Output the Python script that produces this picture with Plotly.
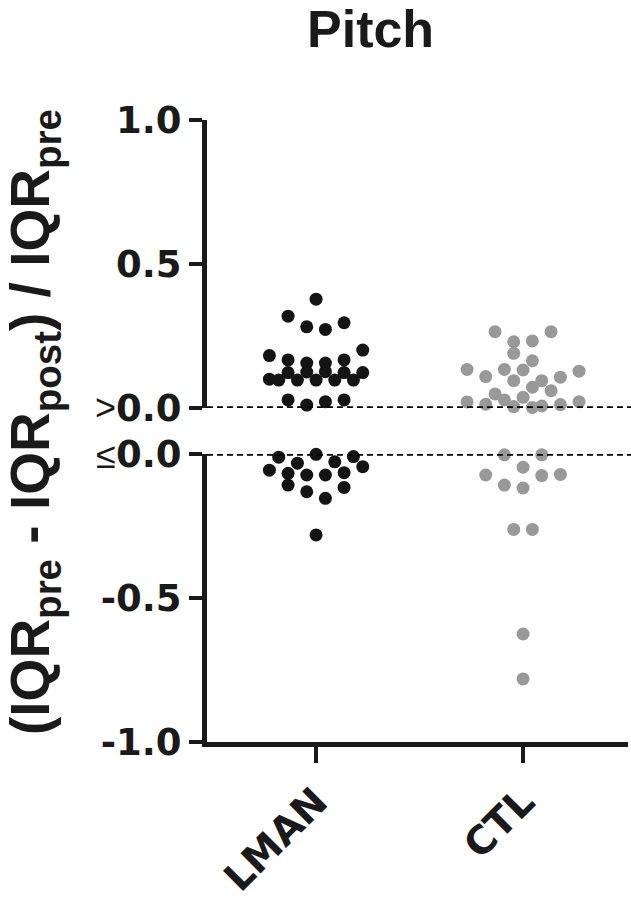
import numpy as np
import plotly.graph_objects as go

# ---------------- data ----------------
categories = ["LMAN", "CTL"]
# values in data-entry order (values > 0 on the upper segment, <= 0 on the lower one)
lman = [0.378,
        0.319, 0.296, 0.282, 0.273,
        0.182, 0.201, 0.167, 0.167, 0.156, 0.156,
        0.100, 0.123, 0.123, 0.123, 0.125, 0.126,
        0.097, 0.097, 0.097, 0.097, 0.097,
        0.028, 0.028, 0.010, 0.022,
        -0.281,
        -0.108, -0.116, -0.131, -0.154,
        -0.056, -0.044, -0.067, -0.065, -0.073, -0.073,
        -0.011, -0.009, -0.032, -0.027, -0.001]
ctl = [0.265, 0.265, 0.230, 0.233,
       0.190, 0.164,
       0.134, 0.128, 0.109, 0.107, 0.134, 0.095, 0.132,
       0.049, 0.060, 0.095, 0.072,
       0.021, 0.022, 0.013, 0.012, 0.028, 0.007, 0.037,
       0.005, 0.002,
       -0.781, -0.625, -0.262, -0.262,
       -0.073, -0.071, -0.108, -0.075, -0.118,
       -0.003, -0.003, -0.046]
y_up_ticks = [0.0, 0.5, 1.0]
y_up_text = ["0.0", "0.5", "1.0"]
y_lo_ticks = [-1.0, -0.5, 0.0]
y_lo_text = ["-1.0", "-0.5", "0.0"]

# ---------------- style / layout ----------------
W, H = 631, 900
L, R, T, B = 207, 3, 120, 158
PW, PH = W - L - R, H - T - B
XR = [0.473, 2.507]
PX_PER_X = PW / (XR[1] - XR[0])
SPACING = 18.67 / PX_PER_X          # horizontal distance between swarm columns
ROW_H = 0.0485                      # row height of the swarm (data units)
colors = {"LMAN": "#141414", "CTL": "#999999"}
max_per_row = {"LMAN": 6, "CTL": 7}
INK = "#1a1a1a"
TICKFONT = dict(family="DejaVu Sans", size=37, color=INK, weight="bold")


def swarm_offsets(values, cap):
    vals = np.asarray(values, dtype=float)
    offs = np.zeros(len(vals))
    for seg in (vals > 0, vals <= 0):
        idx = list(np.where(seg)[0])
        order = sorted(idx, key=lambda i: -abs(vals[i]))
        rows = []
        for i in order:
            if rows and len(rows[-1]) < cap and abs(vals[rows[-1][0]]) - abs(vals[i]) <= ROW_H:
                rows[-1].append(i)
            else:
                rows.append([i])
        for row in rows:
            n = len(row)
            if n % 2 == 0:
                mags = [k + 0.5 for k in range(n // 2)]
            else:
                mags = [k for k in range(1, n // 2 + 1)]
            slots = []
            for m in reversed(mags):
                slots += [-m, m]
            if n % 2:
                slots.append(0)
            for i, s in zip(sorted(row), slots):
                offs[i] = s
    return offs


def px_x(px):
    return (px - L) / PW


def px_y(py):
    return (H - B - py) / PH


fig = go.Figure()
for gi, (name, vals) in enumerate(zip(categories, [lman, ctl])):
    v = np.asarray(vals, dtype=float)
    x = gi + 1 + swarm_offsets(v, max_per_row[name]) * SPACING
    up = v > 0
    for mask, ax in ((up, "y"), (~up, "y2")):
        fig.add_trace(go.Scatter(
            x=x[mask], y=v[mask], xaxis="x", yaxis=ax, mode="markers",
            marker=dict(size=13, color=colors[name], line=dict(width=0)),
            cliponaxis=False, showlegend=False, hoverinfo="y"))

up_bot = px_y(408)
lo_top = px_y(454)

axis_common = dict(showline=True, linecolor=INK, linewidth=5, ticks="outside",
                   tickcolor=INK, tickwidth=4, showgrid=False, zeroline=False,
                   automargin=False)

fig.update_layout(
    width=W, height=H, margin=dict(l=L, r=R, t=T, b=B, autoexpand=False),
    plot_bgcolor="white", paper_bgcolor="white", showlegend=False,
    xaxis=dict(domain=[0, 1], range=XR, anchor="y2", tickvals=[1, 2],
               ticktext=categories, tickangle=-45, ticklen=16,
               tickfont=dict(TICKFONT, size=39), **axis_common),
    yaxis=dict(domain=[up_bot, 1], range=[0, 1], anchor="x", tickvals=y_up_ticks,
               ticktext=y_up_text, ticklen=13, tickfont=TICKFONT, **axis_common),
    yaxis2=dict(domain=[0, lo_top], range=[-1, 0], anchor="x", tickvals=y_lo_ticks,
                ticktext=y_lo_text, ticklen=13, tickfont=TICKFONT, **axis_common),
)

dash = dict(color="#000000", width=3.5, dash="6px,4px")
fig.add_shape(type="line", xref="paper", yref="y", x0=0, x1=px_x(631), y0=0, y1=0,
              line=dash, layer="above")
fig.add_shape(type="line", xref="paper", yref="y2", x0=0, x1=px_x(631), y0=0, y1=0,
              line=dash, layer="above")

fig.add_annotation(text="Pitch", xref="paper", yref="paper", x=px_x(370), y=px_y(29),
                   showarrow=False, xanchor="center", yanchor="middle",
                   font=dict(family="Liberation Sans", size=52, color=INK, weight="bold"))
fig.add_annotation(text="(IQR<sub>pre</sub> - IQR<sub>post</sub>) / IQR<sub>pre</sub>",
                   xref="paper", yref="paper", x=px_x(34), y=px_y(422), textangle=-90,
                   showarrow=False, xanchor="center", yanchor="middle",
                   font=dict(family="Liberation Sans", size=55, color=INK, weight="bold"))
fig.add_annotation(text=">", xref="paper", yref="paper", x=px_x(118), y=px_y(407),
                   showarrow=False, xanchor="right", yanchor="middle",
                   font=dict(family="Liberation Sans", size=36, color=INK))
fig.add_annotation(text="≤", xref="paper", yref="paper", x=px_x(118), y=px_y(455),
                   showarrow=False, xanchor="right", yanchor="middle",
                   font=dict(family="Liberation Sans", size=36, color=INK))

fig.write_html("out.html", config={"displayModeBar": False},
               post_script="document.body.style.margin='0';")
